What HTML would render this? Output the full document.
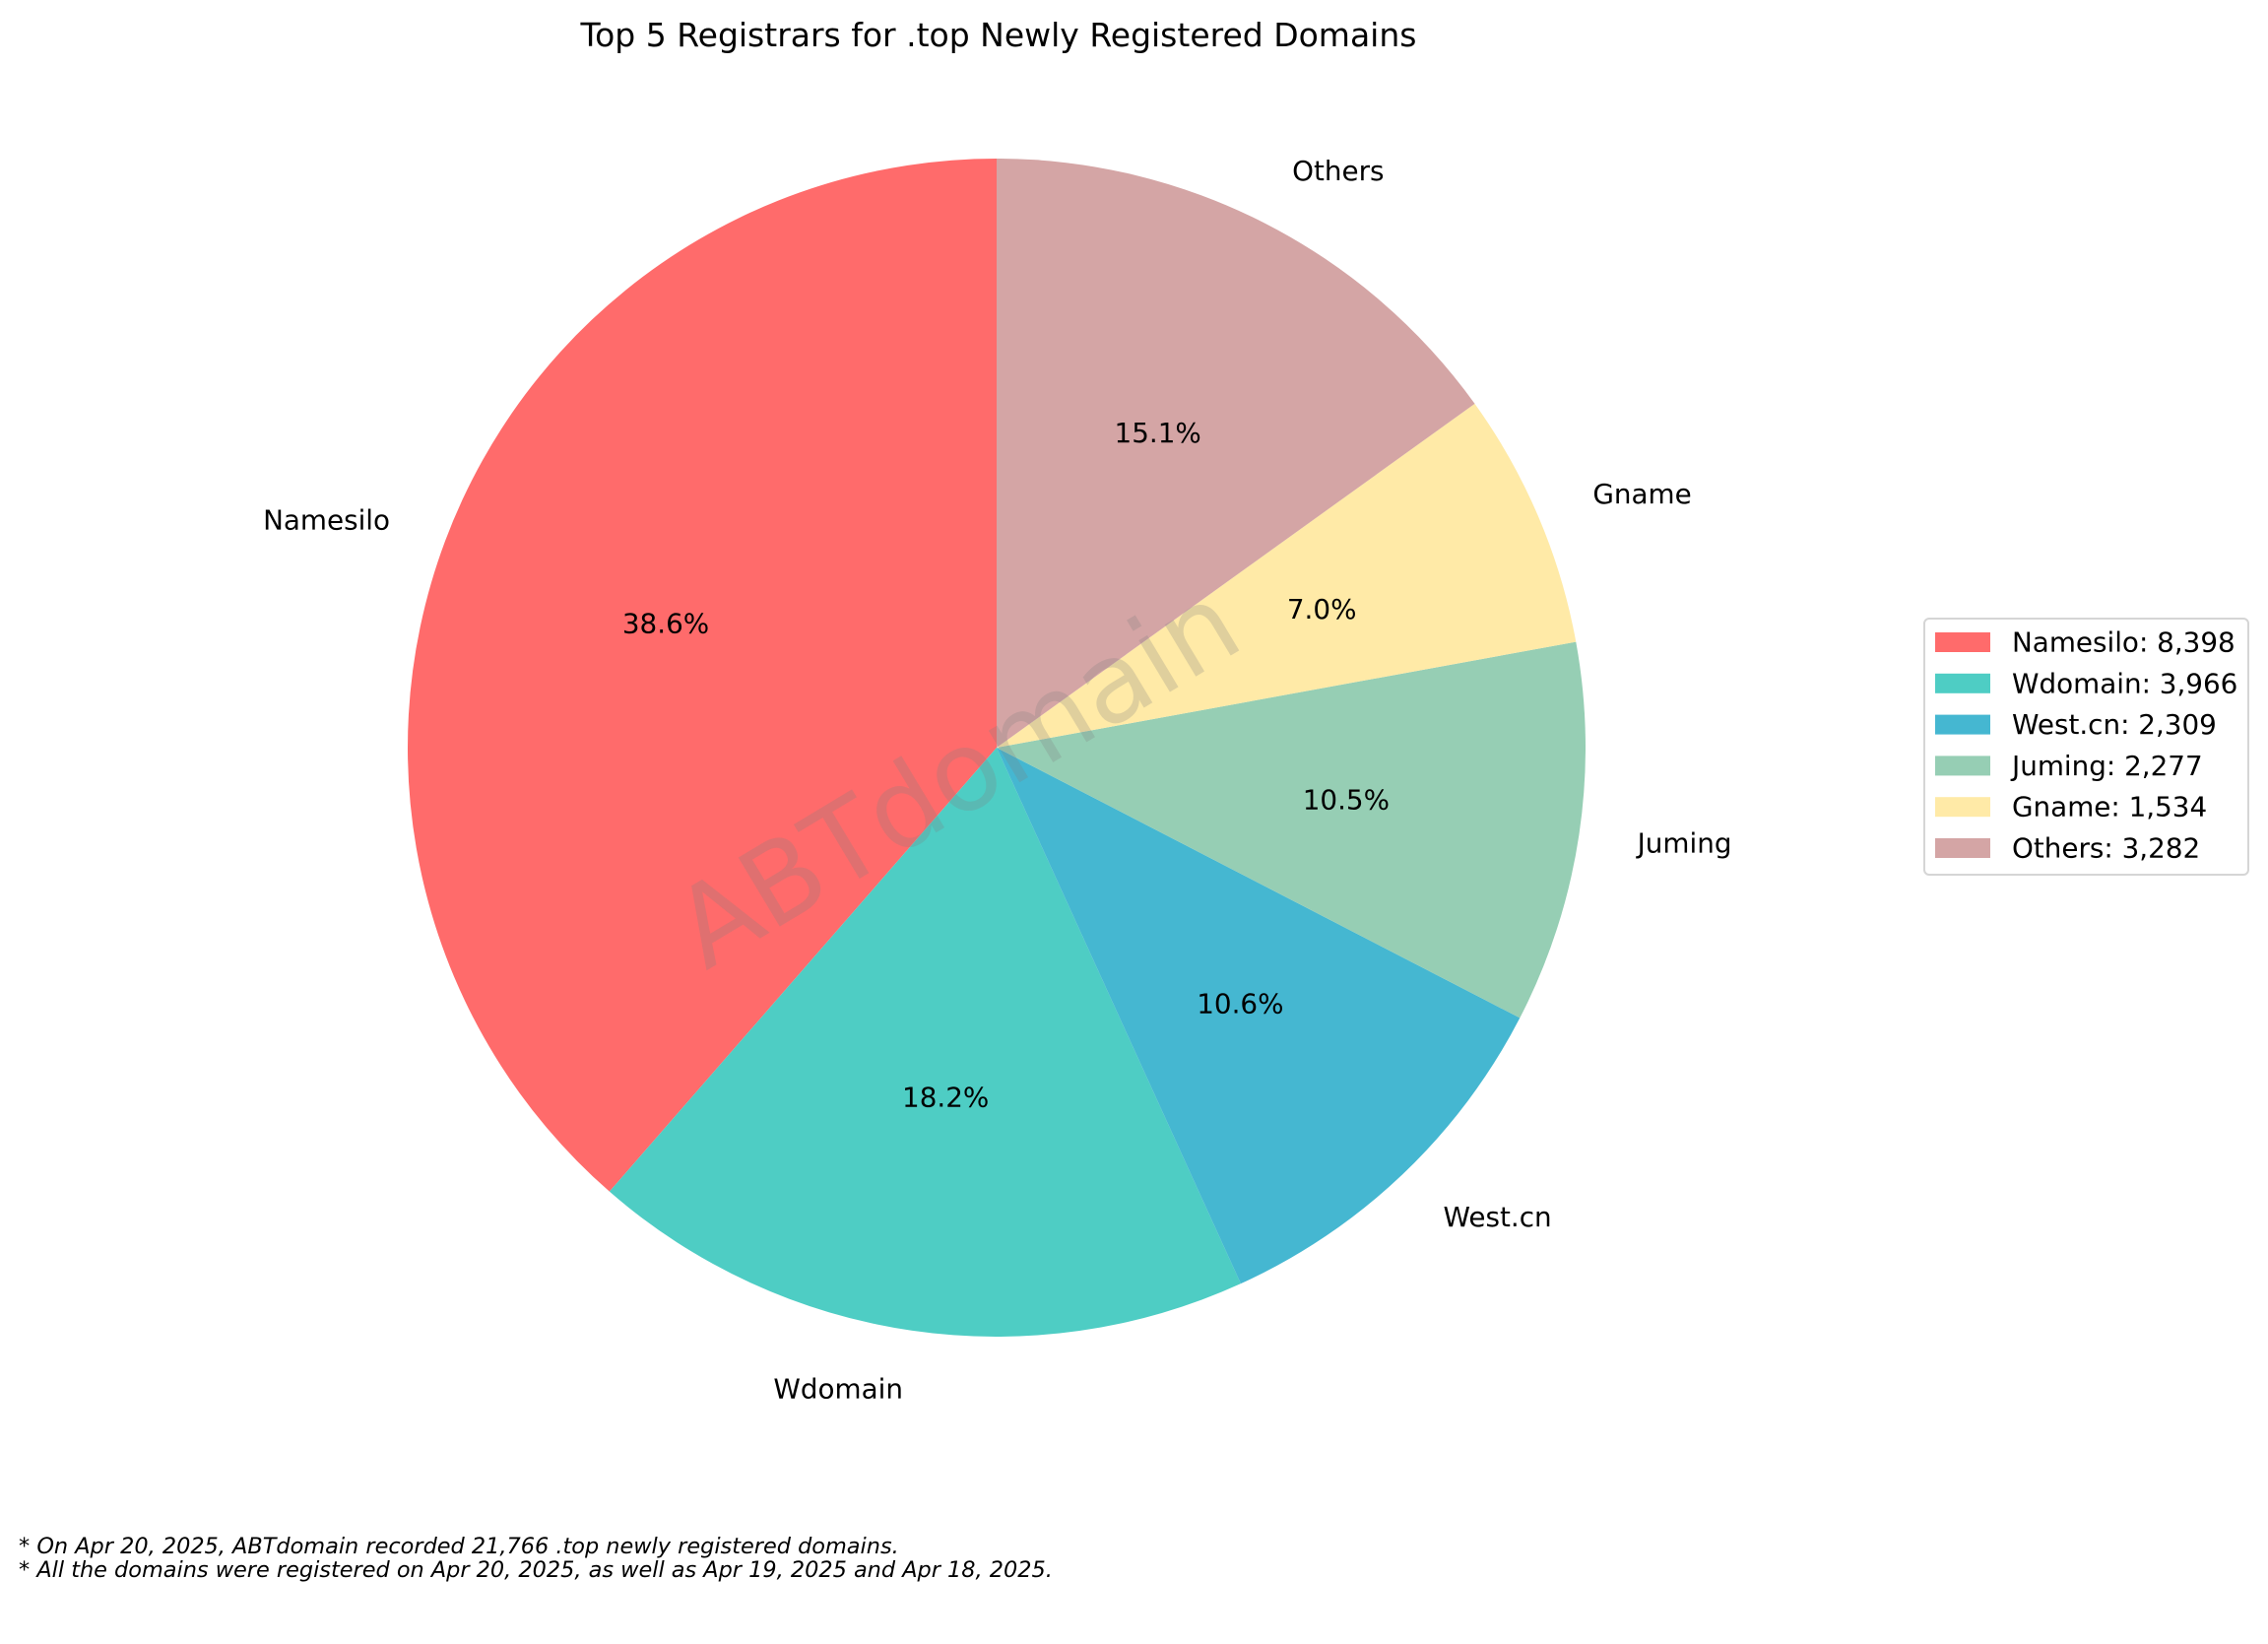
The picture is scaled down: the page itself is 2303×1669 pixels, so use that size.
<!DOCTYPE html>
<html><head><meta charset="utf-8"><style>
html,body{margin:0;padding:0;background:#fff;}
svg{display:block;font-family:"DejaVu Sans","Liberation Sans",sans-serif;}
</style></head><body>
<svg id="chart" width="2303" height="1669" viewBox="0 0 2303 1669">
<rect width="2303" height="1669" fill="#fff"/>
<text x="1014" y="47" font-size="33" text-anchor="middle" fill="#000">Top 5 Registrars for .top Newly Registered Domains</text>
<g id="slices"></g>
<g id="labels"></g>
<text x="0" y="0" font-size="112" fill="#808080" fill-opacity="0.25" text-anchor="middle" dominant-baseline="central" transform="translate(972,788) rotate(-31)">ABTdomain</text>
<g>
<rect x="1954" y="628" width="329" height="260" rx="5" fill="#fff" fill-opacity="0.8" stroke="#d5d5d5" stroke-width="2"/>
<g id="legend-items"></g>
</g>
<text x="19" y="1577" font-size="22.4" font-style="italic" fill="#000">* On Apr 20, 2025, ABTdomain recorded 21,766 .top newly registered domains.</text>
<text x="19" y="1601" font-size="22.4" font-style="italic" fill="#000">* All the domains were registered on Apr 20, 2025, as well as Apr 19, 2025 and Apr 18, 2025.</text>
</svg>
<script>
const categories = ["Namesilo","Wdomain","West.cn","Juming","Gname","Others"];
const values = [8398,3966,2309,2277,1534,3282];
const colors = ["#ff6b6b","#4ecdc4","#45b7d1","#96ceb4","#ffeaa7","#d4a5a5"];
const NS = "http://www.w3.org/2000/svg";
const cx = 1012, cy = 759, R = 598;
const total = values.reduce((a,b)=>a+b,0);
function pt(angDeg, r){ const a = angDeg*Math.PI/180; return [cx + r*Math.cos(a), cy - r*Math.sin(a)]; }
const sg = document.getElementById('slices');
const lg = document.getElementById('labels');
const li = document.getElementById('legend-items');
let start = 90;
categories.forEach((c,i)=>{
  const sweep = values[i]/total*360;
  const end = start + sweep;
  const [x1,y1] = pt(start,R), [x2,y2] = pt(end,R);
  const large = sweep>180?1:0;
  const p = document.createElementNS(NS,'path');
  p.setAttribute('d',`M${cx},${cy} L${x1},${y1} A${R},${R} 0 ${large} 0 ${x2},${y2} Z`);
  p.setAttribute('fill',colors[i]);
  
  
  sg.appendChild(p);
  const mid = start + sweep/2;
  const [lx,ly] = pt(mid, R*1.1);
  const t = document.createElementNS(NS,'text');
  t.setAttribute('x',lx); t.setAttribute('y',ly);
  t.setAttribute('font-size','27.8');
  t.setAttribute('dominant-baseline','central');
  t.setAttribute('text-anchor', lx>cx? 'start':'end');
  t.textContent = c;
  
  
  lg.appendChild(t);
  const [px,py] = pt(mid, R*0.6);
  const q = document.createElementNS(NS,'text');
  q.setAttribute('x',px); q.setAttribute('y',py);
  q.setAttribute('font-size','27.8');
  q.setAttribute('dominant-baseline','central');
  q.setAttribute('text-anchor','middle');
  q.textContent = (values[i]/total*100).toFixed(1)+'%';
  
  
  lg.appendChild(q);
  const ry = 652 + i*41.8;
  const r = document.createElementNS(NS,'rect');
  r.setAttribute('x',1965); r.setAttribute('y',ry-10); r.setAttribute('width',56); r.setAttribute('height',20);
  r.setAttribute('fill',colors[i]);
  
  
  li.appendChild(r);
  const lt = document.createElementNS(NS,'text');
  lt.setAttribute('x',2043); lt.setAttribute('y',ry);
  lt.setAttribute('font-size','27.8');
  lt.setAttribute('dominant-baseline','central');
  lt.textContent = c+': '+values[i].toLocaleString('en-US');
  
  
  li.appendChild(lt);
  start = end;
});
</script>
</body></html>
